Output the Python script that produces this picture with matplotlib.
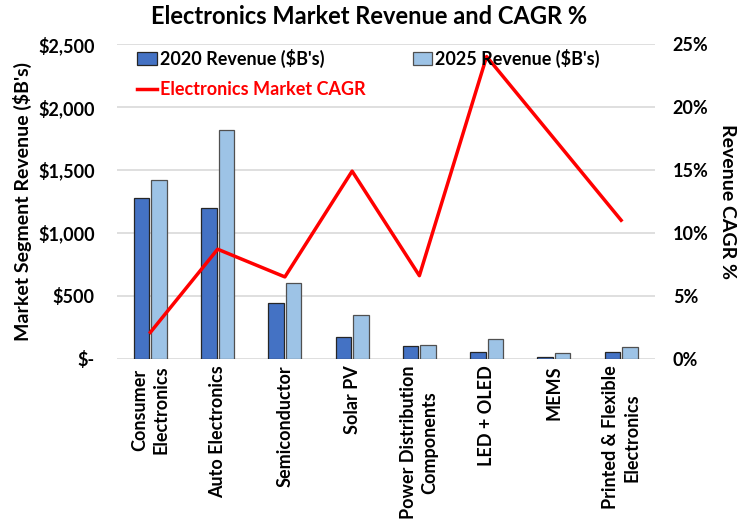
import numpy as np
import matplotlib.pyplot as plt
from matplotlib.ticker import FuncFormatter

plt.rcParams['font.family'] = ['Lato', 'DejaVu Sans']
plt.rcParams['font.weight'] = 'bold'

# Data
segments = ["Consumer\nElectronics", "Auto Electronics", "Semiconductor", "Solar PV",
            "Power Distribution\nComponents", "LED + OLED", "MEMS",
            "Printed & Flexible\nElectronics"]
rev_2020 = [1280, 1200, 440, 175, 100, 55, 15, 55]
rev_2025 = [1420, 1820, 600, 350, 110, 160, 45, 95]
cagr = [2.1, 8.7, 6.5, 14.9, 6.6, 24.0, 17.5, 11.0]

fig = plt.figure(figsize=(7.39, 5.23), dpi=100)
ax = fig.add_axes([0.158, 0.314, 0.728, 0.602])
ax2 = ax.twinx()

x = np.arange(len(segments))
w = 0.23
b1 = ax.bar(x - 0.13, rev_2020, w, color="#4472C4", edgecolor="#262626", linewidth=0.9,
            label="2020 Revenue ($B's)", zorder=3)
b2 = ax.bar(x + 0.13, rev_2025, w, color="#9DC3E6", edgecolor="#505050", linewidth=0.9,
            label="2025 Revenue ($B's)", zorder=3)
ln, = ax2.plot(x, cagr, color="#FF0000", lw=2.5, label="Electronics Market CAGR")

ax.set_xlim(-0.5, len(segments) - 0.5)
ax.set_ylim(0, 2500)
ax.set_yticks(range(0, 2501, 500))
ax.yaxis.set_major_formatter(FuncFormatter(lambda v, p: "$-" if v == 0 else f"${v:,.0f}"))
ax2.set_ylim(0, 25)
ax2.set_yticks(range(0, 26, 5))
ax2.yaxis.set_major_formatter(FuncFormatter(lambda v, p: f"{v:.0f}%"))

ax.grid(axis="y", color="#D9D9D9", lw=1.2, zorder=0)
for a in (ax, ax2):
    for s in a.spines.values():
        s.set_visible(False)
    a.tick_params(length=0, labelsize=13)
ax.tick_params(axis="y", pad=16)
ax2.tick_params(axis="y", pad=13)

ax.set_xticks(x)
ax.set_xticklabels(segments, rotation=90, fontsize=13, ha="center", va="top",
                   multialignment="center", linespacing=1.3)
ax.tick_params(axis="x", pad=5)

ax.set_ylabel("Market Segment Revenue ($B's)", fontsize=14, fontweight="bold", labelpad=4)
ax2.set_ylabel("Revenue CAGR %", fontsize=14, fontweight="bold", rotation=270, labelpad=20)
fig.suptitle("Electronics Market Revenue and CAGR %", fontsize=17, fontweight="bold", y=0.99)

leg = ax2.legend([b1, ln, b2], [b1.get_label(), ln.get_label(), b2.get_label()],
                 ncol=2, loc="upper left", bbox_to_anchor=(0.035, 0.99), frameon=False,
                 fontsize=13, columnspacing=2.6, handlelength=1.1, handletextpad=0.15,
                 labelspacing=0.75, borderaxespad=0, borderpad=0.1)
leg.get_texts()[1].set_color("#FF0000")

fig.savefig("out.png", dpi=100)
